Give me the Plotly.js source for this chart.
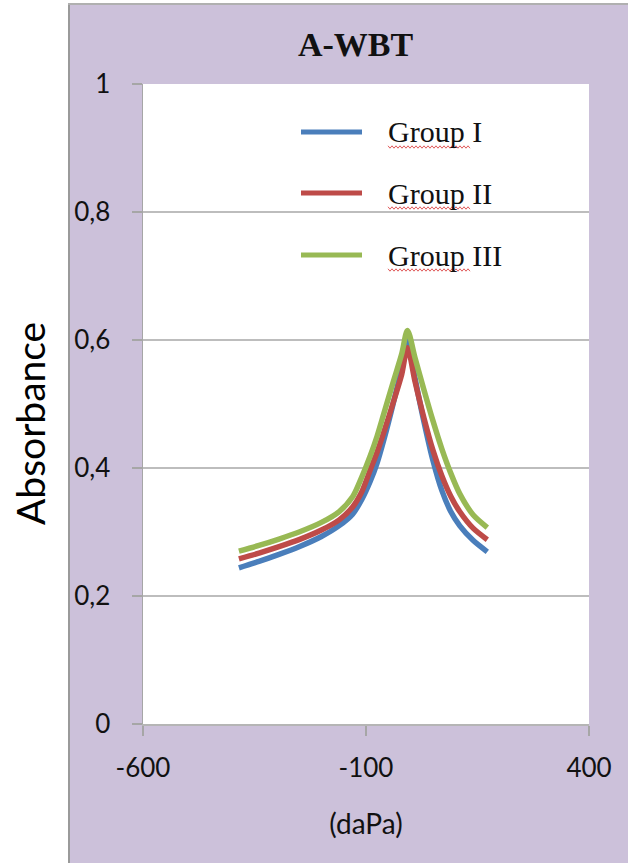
<!DOCTYPE html>
<html>
<head>
<meta charset="utf-8">
<script src="https://cdn.plot.ly/plotly-3.0.1.min.js"></script>
<style>html,body{margin:0;padding:0;background:#fff;}#chart{width:628px;height:863px;}</style>
</head>
<body>
<div id="chart"></div>
<script>
// ---- data ----
const pressure = [-385, -340, -295, -250, -200, -160, -130, -110, -90, -75, -60, -40, -20, -7, 10, 30, 50, 70, 90, 110, 140, 172];
const groupI   = [0.244, 0.254, 0.265, 0.277, 0.293, 0.310, 0.328, 0.350, 0.380, 0.408, 0.444, 0.498, 0.557, 0.604, 0.540, 0.472, 0.412, 0.365, 0.332, 0.310, 0.287, 0.269];
const groupII  = [0.258, 0.267, 0.277, 0.288, 0.303, 0.319, 0.339, 0.362, 0.398, 0.425, 0.456, 0.500, 0.546, 0.588, 0.535, 0.478, 0.428, 0.388, 0.356, 0.332, 0.306, 0.288];
const groupIII = [0.270, 0.279, 0.289, 0.300, 0.315, 0.332, 0.355, 0.385, 0.420, 0.450, 0.485, 0.532, 0.578, 0.615, 0.572, 0.522, 0.474, 0.430, 0.392, 0.360, 0.327, 0.307];
const seriesNames = ['Group I', 'Group II', 'Group III'];
const seriesColors = ['#4A7EBB', '#BE4B48', '#98B954'];
const xTicks = [-600, -100, 400];
const xTickText = ['-600', '-100', '400'];
const yTicks = [0, 0.2, 0.4, 0.6, 0.8, 1];
const yTitle = 'Absorbance';

// ---- helpers: pixel -> paper coordinates for decoration ----
const W = 628, H = 863, L = 143, R = 589, T = 84, B = 724;
const px = x => (x - L) / (R - L);
const py = y => (B - y) / (B - T);

const seriesY = [groupI, groupII, groupIII];
const traces = seriesY.map((ys, i) => ({
  type: 'scatter', mode: 'lines', name: seriesNames[i],
  x: pressure, y: ys,
  line: {color: seriesColors[i], width: 5.5, shape: 'spline', smoothing: 0.8},
  showlegend: false, hoverinfo: 'skip'
}));

const shapes = [
  {type:'rect', xref:'paper', yref:'paper', x0:px(-20), x1:px(68), y0:py(900), y1:py(-20), fillcolor:'#ffffff', line:{width:0}, layer:'below'},
  {type:'rect', xref:'paper', yref:'paper', x0:px(68), x1:px(660), y0:py(3), y1:py(-20), fillcolor:'#ffffff', line:{width:0}, layer:'below'},
  {type:'line', xref:'paper', yref:'paper', x0:px(69), x1:px(69), y0:py(3), y1:py(900), line:{color:'#9a9a9a', width:2}, layer:'below'},
  {type:'line', xref:'paper', yref:'paper', x0:px(68), x1:px(660), y0:py(4), y1:py(4), line:{color:'#b0b0b0', width:2}, layer:'below'},
  {type:'rect', xref:'paper', yref:'paper', x0:px(365), x1:px(545), y0:py(280), y1:py(100), fillcolor:'#ffffff', line:{width:0}, layer:'between'}
];
const annotations = [
  {xref:'paper', yref:'paper', x:px(30), y:py(424), xanchor:'center', yanchor:'middle', textangle:-90,
   text: yTitle, showarrow:false, font:{family:'Lato', size:39, color:'#000'}}
];
const rowY = [132, 193, 255];
rowY.forEach((ry, i) => {
  shapes.push({type:'line', xref:'paper', yref:'paper', x0:px(301), x1:px(362), y0:py(ry), y1:py(ry),
    line:{color:seriesColors[i], width:5}});
  annotations.push({xref:'paper', yref:'paper', x:px(386), y:py(ry), xanchor:'left', yanchor:'middle',
    text: seriesNames[i], showarrow:false, font:{family:'Liberation Serif', size:30, color:'#111'}});
  const uy = ry + 15;
  let d = '';
  for (let k = 0, xx = 388; xx <= 471; k++, xx += 2) {
    const yy = uy + (k % 2 === 0 ? -1.2 : 1.2);
    d += (k === 0 ? 'M' : 'L') + px(xx).toFixed(5) + ',' + py(yy).toFixed(5);
  }
  shapes.push({type:'path', xref:'paper', yref:'paper', path:d, line:{color:'#e05a5a', width:1}});
});

const layout = {
  width: W, height: H,
  margin: {l: L, r: W - R, t: T, b: H - B, pad: 0},
  paper_bgcolor: '#CCC1DA',
  plot_bgcolor: '#ffffff',
  separators: ', ',
  showlegend: false,
  title: {text: '<b>A-WBT</b>', font: {family: 'Liberation Serif', size: 34, color: '#111'},
          xref: 'container', yref: 'container', x: 355.5 / W, y: 1 - 44 / H, xanchor: 'center', yanchor: 'middle'},
  xaxis: {
    range: [-600, 400], tickvals: xTicks, ticktext: xTickText, ticks: 'outside', ticklen: 10, tickcolor: '#a6a6a6', tickwidth: 1.5,
    showline: true, linecolor: '#b5b5b5', linewidth: 2, showgrid: false, zeroline: false,
    tickfont: {family: 'Lato', size: 26, color: '#111'}, ticklabelstandoff: 10,
    title: {text: '(daPa)', font: {family: 'Lato', size: 28, color: '#111'}, standoff: 32},
    automargin: false, fixedrange: true
  },
  yaxis: {
    range: [0, 1], tickvals: yTicks, ticks: 'outside', ticklen: 10, tickcolor: '#a6a6a6', tickwidth: 1.5,
    showline: true, linecolor: '#a6a6a6', linewidth: 1.5, showgrid: true, gridcolor: '#bdbdbd', gridwidth: 1.5,
    zeroline: false,
    tickfont: {family: 'Lato', size: 26, color: '#111'}, ticklabelstandoff: 16,
    automargin: false, fixedrange: true
  },
  shapes: shapes,
  annotations: annotations
};

Plotly.newPlot('chart', traces, layout, {staticPlot: true, displayModeBar: false});
</script>
</body>
</html>
